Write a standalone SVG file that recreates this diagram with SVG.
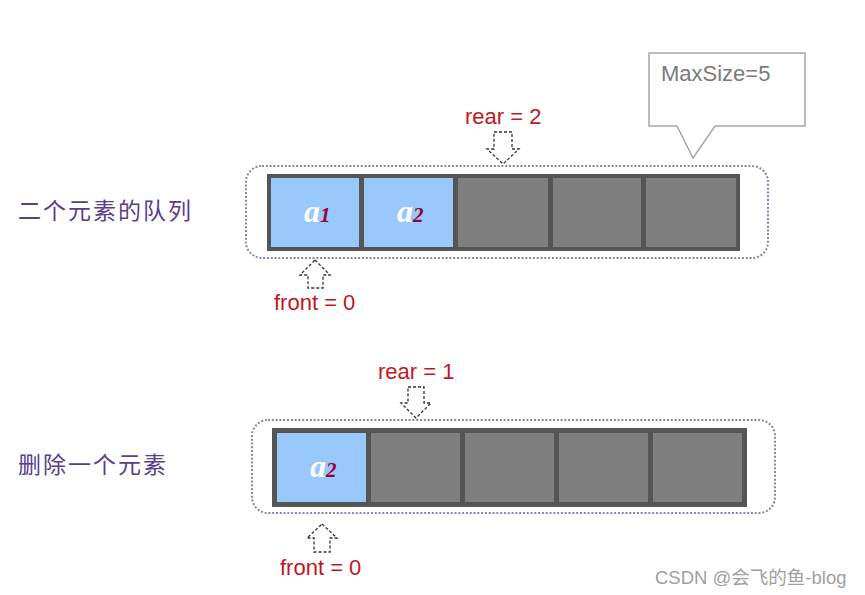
<svg xmlns="http://www.w3.org/2000/svg" width="865" height="595" viewBox="0 0 865 595">
<style>
.bg{fill:#ffffff}
.frame{fill:none;stroke:#8787a6;stroke-width:2;stroke-dasharray:2 1.8}
.outer{fill:#555555}
.blue{fill:#99c8fb}
.gray{fill:#7f7f7f}
.arrow{fill:#ffffff;stroke:#333333;stroke-width:1.3;stroke-dasharray:3 2}
.red{font-family:"Liberation Sans",Arial,sans-serif;font-size:22px;fill:#c0181e}
.label{font-family:"Noto Sans CJK SC","Liberation Sans",sans-serif;font-size:23px;fill:#5a3d8c;letter-spacing:2px}
.elem{font-family:"Liberation Serif","Times New Roman",serif;font-style:italic;font-weight:bold;font-size:32px;fill:#ffffff}
.sub{fill:#9a0030;font-size:21px}
.callout{fill:#ffffff;stroke:#a6a6a6;stroke-width:1.5}
.ctext{font-family:"Liberation Sans",Arial,sans-serif;font-size:22px;fill:#7a7a7a}
.wm{font-family:"Liberation Sans","Noto Sans CJK SC",sans-serif;font-size:18.5px;fill:#a0a0a0}
</style>
<rect class="bg" x="0" y="0" width="865" height="595"/>

<g id="callout">
<path class="callout" d="M649,53 L805,53 L805,126 L715,126 L693,158 L677,126 L649,126 Z"/>
<text class="ctext" x="661" y="81">MaxSize=5</text>
</g>

<g id="label1"><text class="label" x="18" y="219">二个元素的队列</text></g>
<g id="label2"><text class="label" x="18" y="473">删除一个元素</text></g>

<g id="queue1">
<rect class="frame" x="246" y="166" width="522" height="92" rx="16"/>
<rect class="outer" x="267" y="174" width="473" height="77"/>
<rect class="blue" x="271" y="178" width="88" height="69"/>
<rect class="blue" x="364" y="178" width="89" height="69"/>
<rect class="gray" x="458" y="178" width="90" height="69"/>
<rect class="gray" x="553" y="178" width="88" height="69"/>
<rect class="gray" x="646" y="178" width="90" height="69"/>
<text class="elem" x="304" y="222">a<tspan class="sub">1</tspan></text>
<text class="elem" x="397" y="222">a<tspan class="sub">2</tspan></text>
</g>

<g id="queue2">
<rect class="frame" x="252" y="420" width="523" height="93" rx="16"/>
<rect class="outer" x="272" y="428" width="475" height="79"/>
<rect class="blue" x="277" y="433" width="89" height="69"/>
<rect class="gray" x="371" y="433" width="89" height="69"/>
<rect class="gray" x="465" y="433" width="89" height="69"/>
<rect class="gray" x="559" y="433" width="89" height="69"/>
<rect class="gray" x="653" y="433" width="89" height="69"/>
<text class="elem" x="310" y="477">a<tspan class="sub">2</tspan></text>
</g>

<g id="pointers">
<g id="rear1">
<text class="red" x="465" y="124">rear = 2</text>
<path class="arrow" d="M494,132 L512,132 L512,149 L519,149 L503,164 L487,149 L494,149 Z"/>
</g>
<g id="front1">
<path class="arrow" d="M315,260 L330,275 L323,275 L323,288 L308,288 L308,275 L300,275 Z"/>
<text class="red" x="274" y="310">front = 0</text>
</g>
<g id="rear2">
<text class="red" x="378" y="379">rear = 1</text>
<path class="arrow" d="M408,387 L424,387 L424,403 L431,403 L416,418 L401,403 L408,403 Z"/>
</g>
<g id="front2">
<path class="arrow" d="M322,524 L337,538 L330,538 L330,552 L314,552 L314,538 L307,538 Z"/>
<text class="red" x="280" y="575">front = 0</text>
</g>
</g>

<text class="wm" x="655" y="584">CSDN @会飞的鱼-blog</text>
</svg>
